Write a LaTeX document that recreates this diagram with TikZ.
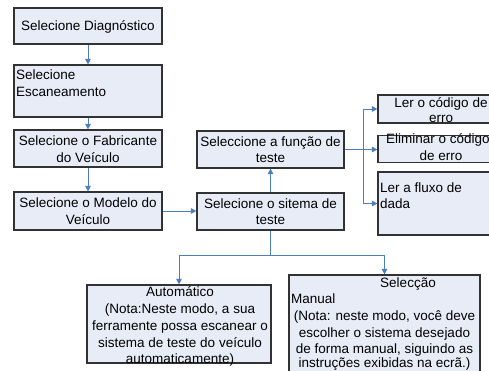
\documentclass[tikz,border=0pt]{standalone}
\usepackage{fontspec}
\setmainfont{Liberation Sans}
\usetikzlibrary{arrows.meta}
\definecolor{boxfill}{RGB}{231,236,247}
\definecolor{bordc}{RGB}{50,50,50}
\definecolor{arrc}{RGB}{74,126,193}
\newcommand\fs{\fontsize{13.5}{16.5}\selectfont}
\begin{document}
\begin{tikzpicture}[x=1pt,y=-1pt,
  box/.style={draw=bordc, fill=boxfill, line width=1.2pt, inner sep=0pt, rectangle},
  conn/.style={draw=arrc, line width=0.9pt, -{Triangle[length=5.5pt,width=5.5pt]}},
  plain/.style={draw=arrc, line width=0.9pt},
  tc/.style={inner sep=0pt, anchor=base, font=\fs},
  tl/.style={inner sep=0pt, anchor=base west, font=\fs}]
\useasboundingbox[fill=white] (0,0) rectangle (489,370);
% boxes
\node[box, minimum width=148pt, minimum height=36pt] (b1) at (88,26) {};
\node[box, minimum width=148pt, minimum height=52pt] (b2) at (88,91) {};
\node[box, minimum width=148pt, minimum height=37pt] (b3) at (88,148.5) {};
\node[box, minimum width=148pt, minimum height=38pt] (b4) at (88,211) {};
\node[box, minimum width=147pt, minimum height=37pt] (b5) at (270.5,211.5) {};
\node[box, minimum width=147pt, minimum height=37pt] (b6) at (270.5,149.5) {};
\node[box, minimum width=126pt, minimum height=28pt] (b7) at (441,109) {};
\node[box, minimum width=126pt, minimum height=27pt] (b8) at (441,149) {};
\node[box, minimum width=126pt, minimum height=63pt] (b9) at (441,203.5) {};
\node[box, minimum width=184pt, minimum height=78pt] (b10) at (179,324) {};
\node[box, minimum width=191pt, minimum height=125pt] (b11) at (384.5,337.5) {};
% texts
\node[tc] (t1) at (88,30) {Selecione Diagnóstico};
\node[tl] (t2a) at (16,79) {Selecione};
\node[tl] (t2b) at (16,96) {Escaneamento};
\node[tc] (t3a) at (88,145) {Selecione o Fabricante};
\node[tc] (t3b) at (88,162) {do Veículo};
\node[tc] (t4a) at (88,207) {Selecione o Modelo do};
\node[tc] (t4b) at (88,224) {Veículo};
\node[tc] (t5a) at (270.5,208) {Selecione o sitema de};
\node[tc] (t5b) at (270.5,224) {teste};
\node[tc] (t6a) at (270.5,146) {Seleccione a função de};
\node[tc] (t6b) at (270.5,162) {teste};
\node[tc] (t7a) at (441,107) {Ler o código de};
\node[tc] (t7b) at (441,122) {erro};
\node[tc] (t8a) at (438,143) {Eliminar o código};
\node[tc] (t8b) at (441,160) {de erro};
\node[tl] (t9a) at (380,192) {Ler a fluxo de};
\node[tl] (t9b) at (380,208) {dada};
\node[tc] (t10a) at (180,296) {Automático};
\node[tc] (t10b) at (180,313) {(Nota:Neste modo, a sua};
\node[tc] (t10c) at (180,330) {ferramente possa escanear o};
\node[tc] (t10d) at (180,347) {sistema de teste do veículo};
\node[tc] (t10e) at (180,363) {automaticamente)};
\node[tc] (t11a) at (408,287) {Selecção};
\node[tl] (t11b) at (291,303) {Manual};
\node[tc] (t11c) at (384.5,320) {(Nota: neste modo, você deve};
\node[tc] (t11d) at (384.5,337) {escolher o sistema desejado};
\node[tc] (t11e) at (384.5,353) {de forma manual, siguindo as};
\node[tc] (t11f) at (384.5,367) {instruções exibidas na ecrã.)};
% connectors
\draw[conn] (b1.south) -- (b2.north);
\draw[conn] (b2.south) -- (b3.north);
\draw[conn] (b3.south) -- (b4.north);
\draw[conn] (b4.east) -- (b4.east -| b5.west);
\draw[conn] (b5.north) -- (b6.south);
\coordinate (j1) at (363,149.5);
\draw[plain] (b6.east) -- (j1);
\draw[conn] (j1) |- (b7.west);
\draw[conn] (j1) -- (j1 -| b8.west);
\draw[conn] (j1) |- (b9.west);
\coordinate (j2) at (270.5,255);
\draw[plain] (b5.south) -- (j2);
\draw[conn] (j2) -| (b10.north);
\draw[conn] (j2) -| (b11.north);
\end{tikzpicture}
\end{document}
